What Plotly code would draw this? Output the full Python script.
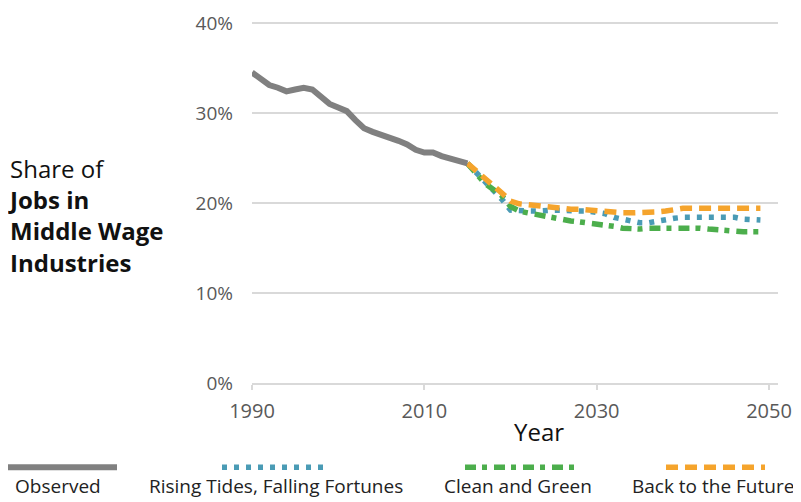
import plotly.graph_objects as go

# Observed share of jobs in middle wage industries (%)
obs_years = list(range(1990, 2016))
observed = [34.5, 33.8, 33.1, 32.8, 32.4, 32.6, 32.8, 32.6, 31.9, 31.0,
            30.6, 30.2, 29.2, 28.3, 27.9, 27.6, 27.2, 26.9, 26.5, 25.9,
            25.6, 25.6, 25.2, 24.9, 24.6, 24.4]

# Scenario projections (%)
proj_years = list(range(2015, 2050))
rising_tides = [24.4, 23.4, 22.5, 21.6, 20.4, 19.2, 19.1, 19.1, 19.1, 19.2,
                19.2, 19.2, 19.1, 19.1, 19.1, 19.0, 18.8, 18.4, 18.2, 17.9,
                17.8, 17.8, 18.0, 18.1, 18.3, 18.4, 18.4, 18.4, 18.4, 18.4,
                18.4, 18.4, 18.2, 18.2, 18.1]
clean_green = [24.4, 23.3, 22.2, 21.5, 20.8, 19.6, 19.1, 18.9, 18.7, 18.5,
               18.3, 18.1, 18.0, 17.9, 17.8, 17.7, 17.5, 17.4, 17.2, 17.1,
               17.1, 17.2, 17.2, 17.3, 17.3, 17.3, 17.2, 17.2, 17.1, 17.0,
               16.9, 16.9, 16.8, 16.8, 16.8]
back_future = [24.4, 23.6, 22.7, 21.9, 21.1, 20.2, 19.9, 19.8, 19.7, 19.5,
               19.4, 19.4, 19.3, 19.3, 19.2, 19.1, 19.1, 19.0, 18.9, 18.9,
               18.9, 18.9, 19.0, 19.1, 19.3, 19.4, 19.4, 19.4, 19.4, 19.4,
               19.4, 19.4, 19.4, 19.4, 19.4]

x_ticks = [1990, 2010, 2030, 2050]
y_ticks = [0, 10, 20, 30, 40]
y_labels = ['0%', '10%', '20%', '30%', '40%']

GRAY = '#808080'
BLUE = '#4a9bb5'
GREEN = '#4cae4c'
ORANGE = '#f5a42c'
GRID = '#d9d9d9'
FONT = 'Open Sans, Lato, sans-serif'

# the page body adds an 8px margin, so the figure is drawn 8px smaller
OFF = 8
W, H = 801 - OFF, 502 - OFF
L, R, T, B = 252 - OFF, 23, 10 - OFF, 119

series = [
    ('Rising Tides, Falling Fortunes', rising_tides, BLUE, '5px,7px'),
    ('Clean and Green', clean_green, GREEN, '11px,6px,5px,7px'),
    ('Back to the Future', back_future, ORANGE, '12px,7px'),
]

fig = go.Figure()

for name, vals, color, dash in series:
    fig.add_trace(go.Scatter(
        x=proj_years, y=vals, mode='lines', name=name,
        line=dict(color=color, width=5.5, dash=dash),
        showlegend=False,
    ))

fig.add_trace(go.Scatter(
    x=obs_years, y=observed, mode='lines', name='Observed',
    line=dict(color=GRAY, width=6),
    showlegend=False,
))


def px_x(px):
    # screen pixel -> paper coordinate
    return (px - OFF - L) / (W - L - R)


def px_y(py):
    return (H - B - (py - OFF)) / (H - T - B)


# legend drawn below the plot: line sample on top, label underneath
legend_items = [
    ('Observed', GRAY, 'solid', 5, 117),
    ('Rising Tides, Falling Fortunes', BLUE, '5px,7px', 222, 330),
    ('Clean and Green', GREEN, '11px,6px,5px,7px', 465, 574),
    ('Back to the Future', ORANGE, '12px,7px', 666, 765),
]
shapes = []
annotations = []
text_centers = [58, 276, 518, 713]
for (label, color, dash, x0, x1), tc in zip(legend_items, text_centers):
    shapes.append(dict(
        type='line', xref='paper', yref='paper',
        x0=px_x(x0), x1=px_x(x1), y0=px_y(468), y1=px_y(468),
        line=dict(color=color, width=6 if dash == 'solid' else 5.5, dash=dash),
    ))
    annotations.append(dict(
        text=label, xref='paper', yref='paper',
        x=px_x(tc), y=px_y(487), xanchor='center', yanchor='middle',
        showarrow=False, font=dict(size=19, color='#222222', family=FONT),
    ))

annotations.append(dict(
    text='Year', xref='paper', yref='paper',
    x=px_x(539), y=px_y(432), xanchor='center', yanchor='middle',
    showarrow=False, font=dict(size=24, color='#111111', family=FONT),
))
annotations.append(dict(
    text='Share of<br><b>Jobs in</b><br><b>Middle Wage</b><br><b>Industries</b>',
    xref='paper', yref='paper', x=px_x(6), y=px_y(214),
    xanchor='left', yanchor='middle', align='left',
    showarrow=False, font=dict(size=24, color='#111111', family=FONT),
))

fig.update_layout(
    width=W, height=H,
    margin=dict(l=L, r=R, t=T, b=B),
    plot_bgcolor='white', paper_bgcolor='white',
    font=dict(family=FONT, color='#595959', size=19),
    showlegend=False,
    shapes=shapes,
    annotations=annotations,
    xaxis=dict(
        range=[1990, 2051.04],
        tickvals=x_ticks,
        showgrid=False, zeroline=False,
        showline=True, linecolor=GRID, linewidth=2,
        ticks='outside', ticklen=5, tickcolor=GRID, tickwidth=2,
        tickfont=dict(size=20, color='#595959'),
        ticklabelstandoff=4,
    ),
    yaxis=dict(
        range=[0, 41.1],
        tickvals=y_ticks,
        ticktext=y_labels,
        showgrid=True, gridcolor=GRID, gridwidth=2,
        zeroline=False, showline=False,
        tickfont=dict(size=19, color='#595959'),
        ticklabelstandoff=18,
        ticklabeloverflow='allow',
    ),
)

fig.write_html('out.html')
